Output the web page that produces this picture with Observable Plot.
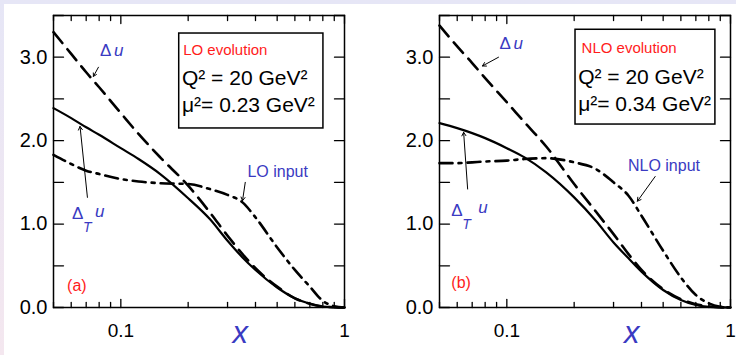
<!DOCTYPE html>
<html><head><meta charset="utf-8">
<script src="https://cdn.jsdelivr.net/npm/d3@7"></script>
<script src="https://cdn.jsdelivr.net/npm/@observablehq/plot@0.6"></script>
<style>
html,body{margin:0;padding:0;}
body{width:736px;height:355px;overflow:hidden;position:relative;background:linear-gradient(180deg,#e6e6f6 0%,#f4e7ef 100%);font-family:"Liberation Sans",Arial,sans-serif;}
#sheet{position:absolute;left:4px;top:4px;right:0;bottom:0;background:#fff;}
#pa,#pb{position:absolute;top:0;}
#pa{left:0}#pb{left:368px}
</style></head><body><div id="sheet"></div><div id="pa"></div><div id="pb"></div>
<script>
// ---- data ----
const xGrid = [0.05, 0.06, 0.07, 0.08, 0.1, 0.12, 0.15, 0.2, 0.25, 0.3, 0.35, 0.4, 0.5, 0.6, 0.7, 0.8, 0.9, 1.0];
// panel (a) LO
const loDeltaU        = [3.30, 3.04, 2.82, 2.64, 2.33, 2.08, 1.80, 1.46, 1.14, 0.86, 0.64, 0.47, 0.25, 0.11, 0.045, 0.012, 0.003, 0];
const loTransversity  = [2.39, 2.27, 2.16, 2.07, 1.91, 1.78, 1.60, 1.31, 1.06, 0.80, 0.60, 0.45, 0.24, 0.11, 0.045, 0.012, 0.003, 0];
const loInput         = [1.83, 1.72, 1.64, 1.60, 1.54, 1.51, 1.49, 1.48, 1.42, 1.35, 1.26, 1.08, 0.72, 0.45, 0.25, 0.08, 0.015, 0];
// panel (b) NLO
const nloDeltaU       = [3.38, 3.13, 2.93, 2.75, 2.46, 2.22, 1.93, 1.48, 1.15, 0.88, 0.64, 0.45, 0.22, 0.10, 0.04, 0.012, 0.003, 0];
const nloTransversity = [2.21, 2.15, 2.09, 2.03, 1.91, 1.80, 1.62, 1.32, 1.04, 0.78, 0.59, 0.43, 0.21, 0.09, 0.03, 0.008, 0.002, 0];
const nloInput        = [1.73, 1.73, 1.74, 1.75, 1.76, 1.78, 1.79, 1.74, 1.66, 1.50, 1.34, 1.10, 0.68, 0.36, 0.15, 0.05, 0.01, 0];
// ticks
const yTickLabels = [0, 1, 2, 3];
const yTickMarks  = [0, 0.5, 1, 1.5, 2, 2.5, 3, 3.5];
const xTickLabels = [0.1, 1];
const xMinorTicks = [0.05, 0.06, 0.07, 0.08, 0.09, 0.2, 0.3, 0.4, 0.5, 0.6, 0.7, 0.8, 0.9];
// texts
const loTexts  = {tag: "(a)", evo: "LO evolution",  q2: "Q² = 20 GeV²", mu2: "μ²= 0.23 GeV²", input: "LO input"};
const nloTexts = {tag: "(b)", evo: "NLO evolution", q2: "Q² = 20 GeV²", mu2: "μ²= 0.34 GeV²", input: "NLO input"};

// ---- annotation layout (data coordinates) ----
const layoutA = {
  marginLeft: 53, marginRight: 24,
  du: {x: 0.0808, y: 3.08}, duArrow: {x1: 0.0794, y1: 2.88, x2: 0.0754, y2: 2.77},
  inp: {x: 0.368, y: 1.62}, inpArrow: {x1: 0.360, y1: 1.50, x2: 0.350, y2: 1.28},
  tu: {x: 0.0605, y: 1.127}, tDx: 11, tDy: 14, uDx: 23, uDy: -2,
  tuArrow: {x1: 0.0709, y1: 1.32, x2: 0.0657, y2: 2.17},
  tag: {x: 0.0575, y: 0.26},
  box: {x1: 0.1824, x2: 0.805, y1: 2.146, y2: 3.284},
  evo: {x: 0.190, y: 3.08}, q2: {x: 0.1876, y: 2.745}, mu2: {x: 0.1876, y: 2.42},
  xlab: 0.342
};
const layoutB = {
  marginLeft: 71, marginRight: 6,
  du: {x: 0.0927, y: 3.16}, duArrow: {x1: 0.0918, y1: 3.0, x2: 0.0778, y2: 2.895},
  inp: {x: 0.348, y: 1.70}, inpArrow: {x1: 0.4605, y1: 1.57, x2: 0.3835, y2: 1.274},
  tu: {x: 0.0565, y: 1.163}, tDx: 11, tDy: 14, uDx: 27, uDy: -3,
  tuArrow: {x1: 0.0668, y1: 1.42, x2: 0.0641, y2: 2.10},
  tag: {x: 0.0565, y: 0.29},
  box: {x1: 0.2028, x2: 0.856, y1: 2.193, y2: 3.329},
  evo: {x: 0.2158, y: 3.113}, q2: {x: 0.2084, y: 2.76}, mu2: {x: 0.2084, y: 2.44},
  xlab: 0.362
};

const BLUE = "#3a3ac2", RED = "#ff1c1c";
const tickShape = {draw(ctx, l) { ctx.moveTo(0, 0); ctx.lineTo(0, -l); }};

function panel(L, T, dU, tU, inp) {
  const rows = vals => xGrid.map((x, i) => ({x, y: vals[i]}));
  const tk = (data, o) => Plot.vector(data, {anchor: "start", shape: tickShape, stroke: "black", strokeWidth: 1.3, ...o});
  return Plot.plot({
    width: 368, height: 355,
    marginLeft: L.marginLeft, marginRight: L.marginRight, marginTop: 15, marginBottom: 48,
    style: {background: "transparent", fontFamily: "Liberation Sans, Arial, sans-serif", overflow: "visible", color: "black"},
    x: {type: "log", domain: [0.05, 1]},
    y: {domain: [0, 3.5]},
    marks: [
      Plot.line(rows(tU), {x: "x", y: "y", stroke: "black", strokeWidth: 2.2, curve: "monotone-x"}),
      Plot.line(rows(inp), {x: "x", y: "y", stroke: "black", strokeWidth: 2.6, strokeDasharray: "13,6,3,6", curve: "monotone-x"}),
      Plot.line(rows(dU), {x: "x", y: "y", stroke: "black", strokeWidth: 2.6, strokeDasharray: "14,8", curve: "monotone-x"}),
      Plot.frame({stroke: "black", strokeWidth: 1.5}),
      tk(yTickMarks, {y: d => d, frameAnchor: "left", rotate: 90, length: 10}),
      tk(yTickMarks, {y: d => d, frameAnchor: "right", rotate: -90, length: 10}),
      tk(xMinorTicks, {x: d => d, frameAnchor: "bottom", rotate: 0, length: 5}),
      tk(xMinorTicks, {x: d => d, frameAnchor: "top", rotate: 180, length: 5}),
      tk(xTickLabels, {x: d => d, frameAnchor: "bottom", rotate: 0, length: 8}),
      tk(xTickLabels, {x: d => d, frameAnchor: "top", rotate: 180, length: 8}),
      Plot.axisY(yTickLabels, {tickSize: 0, tickPadding: 6, tickFormat: d3.format(".1f"), fontSize: 20, label: null}),
      Plot.axisX(xTickLabels, {tickSize: 0, tickPadding: 16, tickFormat: d => String(d), fontSize: 19, label: null}),
      Plot.text(["x"], {x: () => L.xlab, frameAnchor: "bottom", dy: 35, text: d => d, fontSize: 31, fontStyle: "italic", fill: BLUE, textAnchor: "middle"}),
      // box
      Plot.rect([L.box], {x1: "x1", x2: "x2", y1: "y1", y2: "y2", stroke: "black", strokeWidth: 1.5, fill: "white"}),
      Plot.text([L.evo], {x: "x", y: "y", text: () => T.evo, fill: RED, fontSize: 15, textAnchor: "start"}),
      Plot.text([L.q2], {x: "x", y: "y", text: () => T.q2, fill: "black", fontSize: 21, textAnchor: "start"}),
      Plot.text([L.mu2], {x: "x", y: "y", text: () => T.mu2, fill: "black", fontSize: 21, textAnchor: "start"}),
      // panel tag
      Plot.text([L.tag], {x: "x", y: "y", text: () => T.tag, fill: RED, fontSize: 16, textAnchor: "start"}),
      // Δu
      Plot.text([L.du], {x: "x", y: "y", text: () => "Δ", fill: BLUE, fontSize: 17, textAnchor: "start"}),
      Plot.text([L.du], {x: "x", y: "y", text: () => "u", fill: BLUE, fontSize: 17, fontStyle: "italic", textAnchor: "start", dx: 14}),
      Plot.arrow([L.duArrow], {x1: "x1", y1: "y1", x2: "x2", y2: "y2", stroke: "black", strokeWidth: 1, headLength: 6}),
      // input
      Plot.text([L.inp], {x: "x", y: "y", text: () => T.input, fill: BLUE, fontSize: 16, textAnchor: "start"}),
      Plot.arrow([L.inpArrow], {x1: "x1", y1: "y1", x2: "x2", y2: "y2", stroke: "black", strokeWidth: 1, headLength: 6}),
      // Δ_T u
      Plot.text([L.tu], {x: "x", y: "y", text: () => "Δ", fill: BLUE, fontSize: 17, textAnchor: "start"}),
      Plot.text([L.tu], {x: "x", y: "y", text: () => "T", fill: BLUE, fontSize: 14, fontStyle: "italic", textAnchor: "start", dx: L.tDx, dy: L.tDy}),
      Plot.text([L.tu], {x: "x", y: "y", text: () => "u", fill: BLUE, fontSize: 17, fontStyle: "italic", textAnchor: "start", dx: L.uDx, dy: L.uDy}),
      Plot.arrow([L.tuArrow], {x1: "x1", y1: "y1", x2: "x2", y2: "y2", stroke: "black", strokeWidth: 1, headLength: 6})
    ]
  });
}

document.getElementById("pa").append(panel(layoutA, loTexts, loDeltaU, loTransversity, loInput));
document.getElementById("pb").append(panel(layoutB, nloTexts, nloDeltaU, nloTransversity, nloInput));
</script></body></html>
